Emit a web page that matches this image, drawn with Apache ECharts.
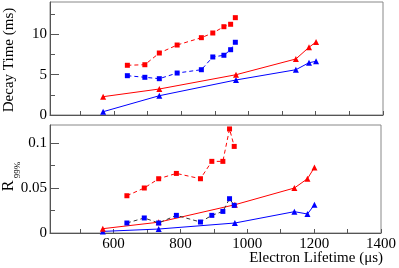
<!DOCTYPE html>
<html><head><meta charset="utf-8">
<script src="https://cdn.jsdelivr.net/npm/echarts@6/dist/echarts.min.js"></script>
<style>html,body{margin:0;padding:0;background:#fff}#c{width:399px;height:268px}</style>
</head><body><div id="c"></div>
<script>
const xSquares = [640, 692, 735, 788, 860, 894, 927, 947, 961];
const xTriangles = [568, 735, 963, 1141, 1180, 1201];
const decayRedSq = [6.16, 6.23, 7.68, 8.67, 9.58, 10.16, 10.94, 11.24, 12.06];
const decayBlueSq = [4.87, 4.67, 4.5, 5.2, 5.61, 7.19, 7.4, 8.09, 9.01];
const decayRedTri = [2.27, 3.22, 4.99, 6.94, 8.39, 9.05];
const decayBlueTri = [0.41, 2.39, 4.34, 5.61, 6.48, 6.65];
const rRedSq = [0.0414, 0.05, 0.0603, 0.0662, 0.0603, 0.0796, 0.0796, 0.1156, 0.0962];
const rBlueSq = [0.0111, 0.0167, 0.0111, 0.0196, 0.0122, 0.0196, 0.024, 0.0381, 0.0307];
const rRedTri = [0.0048, 0.012, 0.0314, 0.05, 0.0603, 0.0729];
const rBlueTri = [0.0018, 0.0044, 0.0111, 0.0237, 0.0211, 0.0314];
const xTickValues = [500, 600, 700, 800, 900, 1000, 1100, 1200, 1300, 1400];
const xLabelValues = [600, 800, 1000, 1200, 1400];
const topYLabels = [0, 5, 10];
const botYLabels = [0, 0.05, 0.1];

const FONT = '"Liberation Serif", "DejaVu Serif", serif';
const RED = '#ff0000', BLUE = '#0000ff';
const pairs = (xs, ys) => xs.map((x, i) => [x, ys[i]]);

function xAxis(gi, showLabels) {
  return {
    type: 'value', gridIndex: gi, min: 410, max: 1400,
    axisLine: { show: true, lineStyle: { color: '#555', width: 1 } },
    axisTick: { show: true, inside: true, length: 4, customValues: xTickValues, lineStyle: { color: '#555' } },
    axisLabel: { show: showLabels, customValues: xLabelValues, margin: 4, color: '#000', fontFamily: FONT, fontSize: 15,
      formatter: v => String(v) },
    splitLine: { show: false }
  };
}
function yAxis(gi, max, interval, labels) {
  return {
    type: 'value', gridIndex: gi, min: 0, max: max, interval: interval,
    axisLine: { show: true, lineStyle: { color: '#555', width: 1 } },
    axisTick: { show: true, inside: true, length: 9, customValues: labels, lineStyle: { color: '#555' } },
    minorTick: { show: true, splitNumber: 2, length: 5, lineStyle: { color: '#555' } },
    axisLabel: { customValues: labels, margin: 3, color: '#000', fontFamily: FONT, fontSize: 15,
      formatter: v => String(v) },
    splitLine: { show: false }
  };
}
function sq(gi, xs, ys, color, lineColor) {
  return { type: 'line', xAxisIndex: gi, yAxisIndex: gi, data: pairs(xs, ys),
    symbol: 'rect', symbolSize: 5, itemStyle: { color: color },
    lineStyle: { color: lineColor || color, width: 1, type: [4, 3] }, animation: false };
}
function tri(gi, xs, ys, color) {
  return { type: 'line', xAxisIndex: gi, yAxisIndex: gi, data: pairs(xs, ys),
    symbol: 'triangle', symbolSize: 6, itemStyle: { color: color },
    lineStyle: { color: color, width: 1 }, animation: false };
}

const chart = echarts.init(document.getElementById('c'), null, { renderer: 'canvas' });
chart.setOption({
  animation: false,
  textStyle: { fontFamily: FONT },
  grid: [
    { left: 50, top: 2, width: 333, height: 113, show: true, borderColor: '#888', borderWidth: 1 },
    { left: 50, top: 125, width: 333, height: 108, show: true, borderColor: '#888', borderWidth: 1 }
  ],
  xAxis: [xAxis(0, false), xAxis(1, true)],
  yAxis: [yAxis(0, 14, 5, topYLabels), yAxis(1, 0.12, 0.05, botYLabels)],
  series: [
    tri(0, xTriangles, decayBlueTri, BLUE),
    tri(0, xTriangles, decayRedTri, RED),
    sq(0, xSquares, decayBlueSq, BLUE),
    sq(0, xSquares, decayRedSq, RED),
    tri(1, xTriangles, rBlueTri, BLUE),
    tri(1, xTriangles, rRedTri, RED),
    sq(1, xSquares, rBlueSq, BLUE, '#333'),
    sq(1, xSquares, rRedSq, RED)
  ],
  graphic: [
    { type: 'text', x: 9, y: 60, rotation: Math.PI / 2,
      style: { text: 'Decay Time (ms)', fontFamily: FONT, fontSize: 15, fill: '#000', align: 'center', verticalAlign: 'middle' } },
    { type: 'text', x: 9, y: 186, rotation: Math.PI / 2,
      style: { text: 'R', fontFamily: FONT, fontSize: 16, fill: '#000', align: 'center', verticalAlign: 'middle' } },
    { type: 'text', x: 17.5, y: 170, rotation: Math.PI / 2,
      style: { text: '99%', fontFamily: FONT, fontSize: 9, fill: '#000', align: 'center', verticalAlign: 'middle' } },
    { type: 'text', x: 383, y: 258,
      style: { text: 'Electron Lifetime (μs)', fontFamily: FONT, fontSize: 15, fill: '#000', align: 'right', verticalAlign: 'middle' } }
  ]
});
</script></body></html>
